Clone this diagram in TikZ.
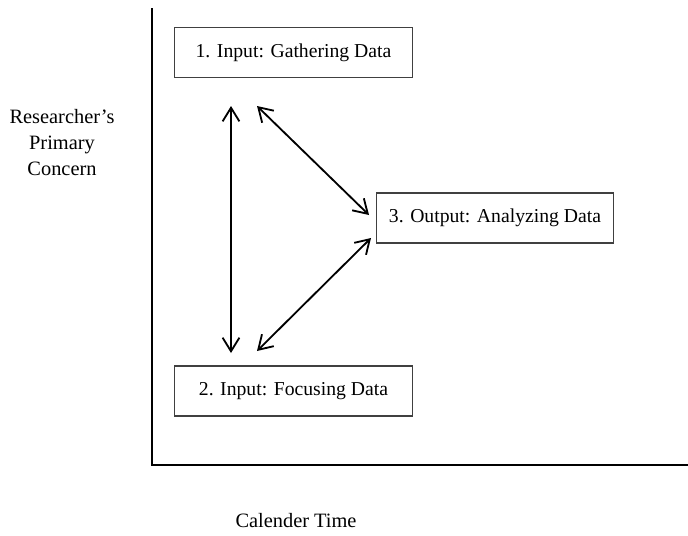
\documentclass[tikz,border=0pt]{standalone}
\usepackage{fontspec}
\setmainfont{Liberation Serif}
\usetikzlibrary{arrows.meta}

\tikzset{
  stagebox/.style={draw=black!75, line width=0.8pt, minimum width=5.93cm,
    minimum height=1.25cm, font=\fontsize{14}{17}\selectfont},
  axislabel/.style={align=center, font=\fontsize{14.5}{18.5}\selectfont},
  twoway/.style={{Straight Barb[length=3.4mm,width=4.2mm]}-{Straight Barb[length=3.4mm,width=4.2mm]}, line width=1.3pt}
}

\begin{document}
\begin{tikzpicture}[x=0.025cm, y=-0.025cm]
    \useasboundingbox (0,0) rectangle (688,535);

    % Axes
    \coordinate (O) at (152,465);
    \coordinate (Ytop) at (152,8);
    \coordinate (Xend) at (688,465);
    \draw[line width=2pt] (Ytop) -- (O) -- (Xend);

    % Nodes
    \node[stagebox] (gather) at (293.5,52.5) {1. Input: Gathering Data};
    \node[stagebox] (focus) at (293.5,391) {2. Input: Focusing Data};
    \node[stagebox] (analyze) at (495,218) {3. Output: Analyzing Data};
    \node[axislabel] (concern) at (62,143) {Researcher's\\Primary\\Concern};
    \node[axislabel] (time) at (296,521) {Calender Time};

    % Arrow ends
    \coordinate (g1) at (231,106);
    \coordinate (f1) at (231,353);
    \coordinate (g2) at (257,106);
    \coordinate (a1) at (369,215);
    \coordinate (a2) at (371,238);
    \coordinate (f2) at (257,351);

    % Edges
    \draw[twoway] (g1) -- (f1);
    \draw[twoway] (g2) -- (a1);
    \draw[twoway] (a2) -- (f2);
\end{tikzpicture}
\end{document}
